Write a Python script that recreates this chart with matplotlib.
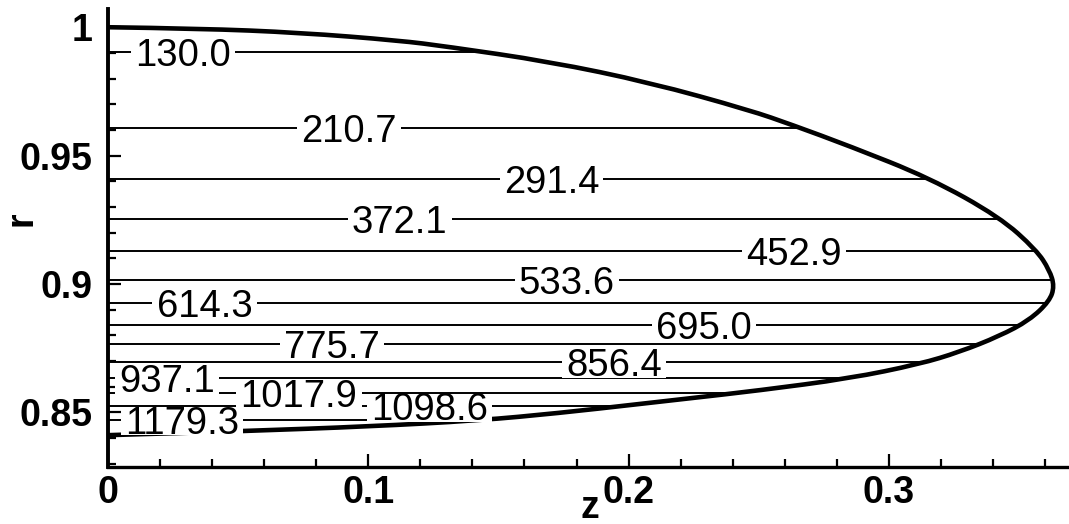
import numpy as np
import matplotlib
matplotlib.use('Agg')
from matplotlib import pyplot as plt
from matplotlib.patches import PathPatch, Rectangle
from matplotlib.path import Path
from matplotlib.ticker import MultipleLocator, FuncFormatter

plt.rcParams['font.family'] = ['Liberation Sans', 'DejaVu Sans']

# contour levels and the radius at which each one sits
levels = [130.0, 210.7, 291.4, 372.1, 452.9, 533.6, 614.3,
          695.0, 775.7, 856.4, 937.1, 1017.9, 1098.6, 1179.3]
level_r = [0.9904, 0.9609, 0.9408, 0.9254, 0.9127, 0.9016, 0.8925,
           0.8841, 0.8765, 0.8696, 0.8632, 0.8577, 0.8524, 0.8472]
# where the label of each level is placed along z
label_z = [0.0287, 0.0926, 0.1704, 0.1120, 0.2635, 0.1763, 0.0371,
           0.2290, 0.0860, 0.1944, 0.0227, 0.0734, 0.1235, 0.0284]

# outline of the domain: upper branch, nose, lower branch
bnd_z = [0.0, 0.0352, 0.0736, 0.1120, 0.1300, 0.1696, 0.2080, 0.2465,
         0.2630, 0.2849, 0.3156, 0.3425, 0.3567, 0.3617, 0.3636,
         0.3617, 0.3540, 0.3425, 0.3271, 0.3118, 0.2849, 0.2499,
         0.2230, 0.2038, 0.1731, 0.1423, 0.1005, 0.0524, 0.0]
bnd_r = [1.0, 0.9995, 0.9979, 0.9948, 0.9925, 0.9866, 0.9785, 0.9677,
         0.9619, 0.9537, 0.9413, 0.9261, 0.9132, 0.9054, 0.8991,
         0.8933, 0.8859, 0.8797, 0.8735, 0.8688, 0.8632, 0.8585,
         0.8554, 0.8532, 0.8497, 0.8468, 0.8445, 0.8427, 0.8411]


def smooth_path(pts, close=False):
    # quadratic bezier pieces through the midpoints of the outline
    verts = [pts[0]]
    codes = [Path.MOVETO]
    for i in range(1, len(pts) - 1):
        mid = (pts[i] + pts[i + 1]) / 2
        verts += [pts[i], mid]
        codes += [Path.CURVE3, Path.CURVE3]
    verts.append(pts[-1])
    codes.append(Path.LINETO)
    if close:
        verts.append(pts[0])
        codes.append(Path.CLOSEPOLY)
    return Path(verts, codes)


fig = plt.figure(figsize=(10.69, 5.24), dpi=100)
ax = fig.add_axes([108 / 1069, 57 / 524, 961 / 1069, 458 / 524])
ax.set_xlim(0, 0.3692)
ax.set_ylim(0.8287, 1.0071)

pts = np.column_stack([bnd_z, bnd_r])
dom = PathPatch(smooth_path(pts, close=True), fc='none', ec='none')
ax.add_patch(dom)

for lev, r in zip(levels, level_r):
    ln, = ax.plot([0, 0.5], [r, r], color='black', lw=1.4, zorder=2)
    ln.set_clip_path(dom)

ax.add_patch(PathPatch(smooth_path(pts), fc='none', ec='black', lw=3.3,
                       zorder=3, joinstyle='round'))

texts = []
for lev, r, z in zip(levels, level_r, label_z):
    t = ax.text(z, r, '%.1f' % lev, fontsize=27.5, ha='center',
                va='center_baseline', zorder=5)
    texts.append(t)

# white backing boxes sized to the digits
fig.canvas.draw()
rend = fig.canvas.get_renderer()
inv = ax.transData.inverted()
for t, r in zip(texts, level_r):
    bb = t.get_window_extent(renderer=rend)
    em = t.get_fontsize() * fig.dpi / 72
    ly = ax.transData.transform((0, r))[1]
    (x0, y0), (x1, y1) = inv.transform([(bb.x0 - 0.11 * em, ly - 0.41 * em),
                                        (bb.x1 + 0.11 * em, ly + 0.33 * em)])
    ax.add_patch(Rectangle((x0, y0), x1 - x0, y1 - y0, fc='white',
                           ec='none', zorder=4))

ax.spines['top'].set_visible(False)
ax.spines['right'].set_visible(False)
ax.spines['left'].set_linewidth(2.8)
ax.spines['bottom'].set_linewidth(2.4)

ax.xaxis.set_major_locator(MultipleLocator(0.1))
ax.xaxis.set_minor_locator(MultipleLocator(0.02))
ax.yaxis.set_major_locator(MultipleLocator(0.05))
ax.yaxis.set_minor_locator(MultipleLocator(0.01))
fmt = FuncFormatter(lambda v, p: '%g' % round(v, 4))
ax.xaxis.set_major_formatter(fmt)
ax.yaxis.set_major_formatter(fmt)

ax.tick_params(which='both', direction='in', width=1.6, color='black')
ax.tick_params(which='major', length=9.5)
ax.tick_params(which='minor', length=6)
ax.tick_params(axis='x', which='major', pad=6)
ax.tick_params(axis='y', which='major', pad=11.5)
for lab in ax.get_xticklabels() + ax.get_yticklabels():
    lab.set_fontsize(27)
    lab.set_fontweight('bold')

ax.set_xlabel('z', fontsize=27, fontweight='bold', va='center')
ax.xaxis.set_label_coords(0.5016, -0.0895)
ax.set_ylabel('r', fontsize=27, fontweight='bold', va='center')
ax.yaxis.set_label_coords(-0.0905, 0.5415)

fig.savefig('out.png', dpi=100)
